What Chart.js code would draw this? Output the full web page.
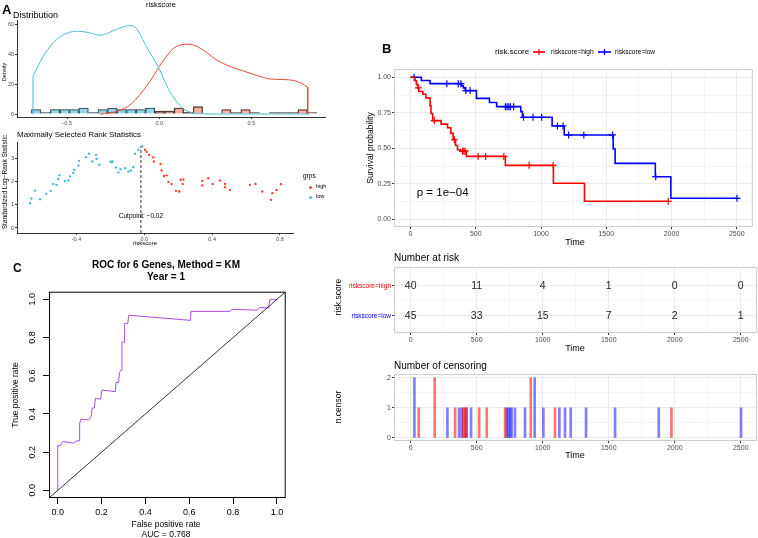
<!DOCTYPE html>
<html>
<head>
<meta charset="utf-8">
<script src="https://cdn.jsdelivr.net/npm/chart.js@4.4.0/dist/chart.umd.min.js"></script>
<style>
body{margin:0;background:#fff;width:758px;height:538px;position:relative;overflow:hidden;font-family:"Liberation Sans",Arial,sans-serif;}
canvas{position:absolute;}
.t{position:absolute;white-space:nowrap;line-height:1;color:#000;}
.dot{position:absolute;width:3px;height:3px;border-radius:50%;}
</style>
</head>
<body>
<canvas id="cDist" width="335" height="130" style="left:0px;top:0px"></canvas>
<canvas id="cRank" width="360" height="125" style="left:0px;top:130px"></canvas>
<canvas id="cRoc" width="360" height="253" style="left:0px;top:285px"></canvas>
<canvas id="cKm" width="396" height="212" style="left:362px;top:40px"></canvas>
<canvas id="cRisk" width="428" height="92" style="left:330px;top:262px"></canvas>
<canvas id="cCens" width="428" height="92" style="left:330px;top:368px"></canvas>
<script>
// ---- A: distribution of riskscore ----
var binMid = [-0.669,-0.617,-0.566,-0.514,-0.462,-0.411,-0.359,-0.307,-0.255,-0.204,-0.152,-0.100,-0.049,0.003,0.055,0.107,0.158,0.210,0.262,0.313,0.365,0.417,0.469,0.520,0.572,0.624,0.675,0.727,0.779,0.830];
var histLow  = [3,1,3,3,3,4,1,3,4,3,3,3,4,1,2,0,1,0,0,0,0,0,0,0,0,0,0,0,0,0];
var histHigh = [0,0,0,0,0,0,0,0,1,0,0,0,0,2,2,4,1,5,0,0,3,1,3,1,0,1,1,1,3,1];
var densLowX  = [-0.686,-0.632,-0.577,-0.505,-0.44,-0.377,-0.323,-0.25,-0.196,-0.156,-0.123,-0.069,0,0.04,0.076,0.12,0.167,0.22,0.4,0.6,0.815];
var densLowY  = [25.4,38.4,47.9,54.2,55.7,54.6,53,56,58.7,59.5,57.5,45.2,30.5,19.3,11.5,4.7,1.3,0.2,0,0,0];
var densHighX = [-0.323,-0.269,-0.214,-0.16,-0.105,-0.05,0,0.04,0.076,0.14,0.185,0.24,0.312,0.385,0.457,0.53,0.602,0.675,0.73,0.775,0.807];
var densHighY = [0,0.7,2.5,6,13,22,32,39,44,47,46.5,43,36.5,32,29,26,23.6,23.2,22.6,20.5,18];
var distXTicks = [-0.5,0,0.5];
var distYTicks = [0,20,40,60];

// ---- A: maximally selected rank statistics ----
var lowX = [-0.674,-0.666,-0.645,-0.615,-0.58,-0.552,-0.537,-0.517,-0.507,-0.501,-0.468,-0.448,-0.438,-0.419,-0.413,-0.389,-0.385,-0.344,-0.326,-0.307,-0.285,-0.281,-0.265,-0.199,-0.193,-0.187,-0.167,-0.153,-0.14,-0.114,-0.094,-0.079,-0.065,-0.055,-0.035,-0.012];
var lowY = [1.07,1.28,1.62,1.25,1.48,1.61,1.91,1.87,2.13,2.29,2.04,2.06,2.23,2.38,2.52,2.71,2.91,3.07,3.22,2.88,3.17,3.0,2.74,2.88,2.85,2.88,2.62,2.41,2.55,2.59,2.45,2.49,2.64,3.22,3.39,3.54];
var highX = [0.004,0.014,0.028,0.053,0.057,0.096,0.102,0.116,0.132,0.142,0.161,0.187,0.206,0.214,0.226,0.23,0.342,0.342,0.377,0.403,0.446,0.476,0.476,0.505,0.623,0.656,0.696,0.747,0.755,0.78,0.806];
var highY = [3.39,3.3,3.17,3.06,2.88,2.77,2.49,2.25,2.28,2.0,1.91,1.61,1.58,2.09,1.91,2.1,2.04,1.84,2.16,1.91,2.06,1.91,1.77,1.65,1.87,1.91,1.58,1.22,1.51,1.65,1.90];
var cutpoint = -0.02;
var rankXTicks = [-0.4,0,0.4,0.8];
var rankYTicks = [0,1,2,3];

// ---- B: Kaplan-Meier ----
var kmHighT = [0,35,45,55,63,95,118,150,157,170,235,284,309,327,345,360,380,428,727,1095,1333];
var kmHighS = [1,0.975,0.95,0.925,0.90,0.88,0.855,0.80,0.745,0.695,0.67,0.645,0.605,0.56,0.52,0.49,0.48,0.443,0.38,0.254,0.127];
var kmHighEnd = 1977;
var kmLowT = [0,83,150,392,405,420,505,605,660,845,858,1085,1178,1553,1568,1876,1995];
var kmLowS = [1,0.977,0.955,0.94,0.925,0.906,0.851,0.822,0.793,0.758,0.718,0.657,0.594,0.495,0.394,0.30,0.148];
var kmLowEnd = 2502;
var censHighT = [61,182,336,399,409,419,518,576,715,909,1093,1975];
var censHighN = [1,2,1,1,1,1,1,1,1,2,1,1];
var censLowT = [28,278,366,386,424,457,727,740,753,765,790,866,939,1005,1126,1169,1212,1328,1548,1879,2502];
var censLowN = [2,1,1,1,1,1,1,1,1,1,1,1,2,1,1,1,1,1,1,1,1];
var timeTicks = [0,250,500,750,1000,1250,1500,1750,2000,2250,2500];
var survTicks = [0,0.125,0.25,0.375,0.5,0.625,0.75,0.875,1];
var riskTimes = [0,500,1000,1500,2000,2500];
var riskHigh = [40,11,4,1,0,0];
var riskLow = [45,33,15,7,2,1];
var pText = 'p = 1e\u221204';

// ---- C: ROC ----
var rocFpr = [0,0,0.012,0.018,0.024,0.073,0.085,0.1,0.1,0.106,0.141,0.152,0.157,0.167,0.172,0.195,0.202,0.263,0.266,0.278,0.281,0.289,0.293,0.304,0.305,0.319,0.324,0.605,0.608,0.787,0.795,0.909,0.921,0.962,0.967,1.0];
var rocTpr = [0,0.235,0.235,0.245,0.256,0.247,0.259,0.259,0.351,0.372,0.369,0.386,0.431,0.431,0.482,0.477,0.525,0.517,0.565,0.565,0.616,0.63,0.776,0.776,0.873,0.873,0.917,0.89,0.937,0.937,0.948,0.943,0.957,0.955,0.998,0.998];
var rocTicks = [0,0.2,0.4,0.6,0.8,1.0];

var FF = '"Liberation Sans", Arial, Helvetica, sans-serif';
Chart.defaults.font.family = FF;
Chart.defaults.animation = false;

var RED = '#E64B35', CYAN = '#4DBBD5';

function fixW(w){ return function(s){ s.width = w; }; }
function fixH(h){ return function(s){ s.height = h; }; }
function setTicks(arr){ return function(s){ s.ticks = arr.map(function(v){ return {value: v}; }); }; }
function pts(xs, ys){ return xs.map(function(x, i){ return {x: x, y: ys[i]}; }); }
function survAt(ts, ss, t){ var s = ss[0]; for (var i = 0; i < ts.length; i++) { if (ts[i] <= t) s = ss[i]; } return s; }
function isMajor(v, step){ return Math.abs(v / step - Math.round(v / step)) < 1e-6; }
function tickMajor(c, step){ return c.tick ? isMajor(c.tick.value, step) : false; }

var frame = {
  id: 'frame',
  afterDraw: function(chart, args, o){
    var a = chart.chartArea, ctx = chart.ctx;
    ctx.save();
    ctx.strokeStyle = o.color; ctx.lineWidth = o.width;
    ctx.strokeRect(a.left + 0.5, a.top + 0.5, a.right - a.left - 1, a.bottom - a.top - 1);
    ctx.restore();
  }
};

var dataText = {
  id: 'dataText',
  afterDatasetsDraw: function(chart, args, o){
    var ctx = chart.ctx;
    (o.items || []).forEach(function(it){
      ctx.save();
      ctx.font = it.font;
      ctx.fillStyle = it.color || '#000';
      ctx.textAlign = it.align || 'center';
      ctx.textBaseline = 'middle';
      ctx.fillText(it.text, chart.scales.x.getPixelForValue(it.x), chart.scales.y.getPixelForValue(it.y));
      ctx.restore();
    });
  }
};

function label(txt, x, y, size, o){
  o = o || {};
  var d = document.createElement('div');
  d.className = 't';
  d.textContent = txt;
  d.style.left = x + 'px';
  d.style.top = y + 'px';
  d.style.fontSize = size + 'px';
  if (o.bold) d.style.fontWeight = 'bold';
  if (o.color) d.style.color = o.color;
  var ax = o.align === 'center' ? '-50%' : (o.align === 'right' ? '-100%' : '0');
  d.style.transform = o.rot ? 'translate(-50%,-50%) rotate(-90deg)' : 'translate(' + ax + ',-50%)';
  document.body.appendChild(d);
}

var base = { responsive: false, devicePixelRatio: 1, animation: false };

function classicAxis(min, max, ticks, fit, isX, fmt){
  var ax = {
    type: 'linear', min: min, max: max, offset: false,
    afterBuildTicks: setTicks(ticks),
    grid: { display: true, drawOnChartArea: false, tickLength: 2, tickColor: '#333', offset: false },
    border: { display: true, color: '#000', width: 0.8 },
    ticks: { font: { size: 5.5 }, color: '#4D4D4D', padding: 1, maxRotation: 0, callback: fmt }
  };
  if (isX) ax.afterFit = fixH(fit); else ax.afterFit = fixW(fit);
  return ax;
}

// ---------- A top: distribution ----------
new Chart(document.getElementById('cDist'), {
  type: 'bar',
  data: { datasets: [
    { type: 'bar', data: pts(binMid, histLow), backgroundColor: 'rgba(77,187,213,0.6)', borderColor: '#333', borderWidth: 0.7, grouped: false, barPercentage: 1, categoryPercentage: 1, order: 3 },
    { type: 'bar', data: pts(binMid, histHigh), backgroundColor: 'rgba(230,75,53,0.45)', borderColor: '#333', borderWidth: 0.7, grouped: false, barPercentage: 1, categoryPercentage: 1, order: 2 },
    { type: 'line', data: pts(densLowX, densLowY), borderColor: CYAN, borderWidth: 1, pointRadius: 0, cubicInterpolationMode: 'monotone', order: 1 },
    { type: 'line', data: pts(densHighX, densHighY), borderColor: RED, borderWidth: 1, pointRadius: 0, cubicInterpolationMode: 'monotone', order: 1 },
    { type: 'line', data: [{x: densLowX[0], y: 0}, {x: densLowX[0], y: densLowY[0]}], borderColor: CYAN, borderWidth: 1, pointRadius: 0, order: 1 },
    { type: 'line', data: [{x: densHighX[densHighX.length - 1], y: densHighY[densHighY.length - 1]}, {x: densHighX[densHighX.length - 1], y: 0}], borderColor: RED, borderWidth: 1, pointRadius: 0, order: 1 }
  ]},
  options: Object.assign({}, base, {
    layout: { padding: { top: 20, right: 10, left: 0, bottom: 0 } },
    plugins: { legend: { display: false }, tooltip: { enabled: false } },
    scales: {
      x: classicAxis(-0.773, 0.901, distXTicks, 13, true, function(v){ return v.toFixed(1); }),
      y: classicAxis(-2, 63.3, distYTicks, 17, false, function(v){ return v; })
    }
  })
});

// ---------- A bottom: rank statistics ----------
new Chart(document.getElementById('cRank'), {
  type: 'scatter',
  data: { datasets: [
    { data: pts(lowX, lowY), backgroundColor: CYAN, borderWidth: 0, pointRadius: 1.2 },
    { data: pts(highX, highY), backgroundColor: RED, borderWidth: 0, pointRadius: 1.2 },
    { data: [{x: cutpoint, y: -0.22}, {x: cutpoint, y: 3.55}], showLine: true, borderColor: '#000', borderWidth: 0.8, borderDash: [3, 2], pointRadius: 0 }
  ]},
  plugins: [dataText],
  options: Object.assign({}, base, {
    layout: { padding: { top: 12, right: 67, left: 0, bottom: 0 } },
    plugins: { legend: { display: false }, tooltip: { enabled: false },
      dataText: { items: [{ text: 'Cutpoint: \u22120.02', x: cutpoint, y: 0.52, font: '6.5px ' + FF }] } },
    scales: {
      x: classicAxis(-0.751, 0.877, rankXTicks, 22, true, function(v){ return v.toFixed(1); }),
      y: classicAxis(-0.217, 3.726, rankYTicks, 17, false, function(v){ return v; })
    }
  })
});

// ---------- B: KM curves ----------
function bwX(fit, labels){
  return {
    type: 'linear', min: -126.5, max: 2623, offset: false,
    afterBuildTicks: setTicks(timeTicks), afterFit: fixH(fit),
    grid: { offset: false, color: '#EBEBEB', lineWidth: function(c){ return tickMajor(c, 500) ? 1 : 0.5; },
            tickLength: 2, tickColor: function(c){ return tickMajor(c, 500) ? '#333' : 'rgba(0,0,0,0)'; } },
    border: { display: false },
    ticks: { display: labels, font: { size: 7 }, color: '#4D4D4D', padding: 1, maxRotation: 0, autoSkip: false,
             callback: function(v){ return isMajor(v, 500) ? String(v) : ''; } }
  };
}

var kmLegend = {
  id: 'kmLegend',
  afterDraw: function(chart){
    var ctx = chart.ctx, y = 12;
    ctx.save();
    ctx.textBaseline = 'middle'; ctx.textAlign = 'left';
    ctx.fillStyle = '#000'; ctx.font = '8px ' + FF;
    ctx.fillText('risk.score', 133, y);
    [[171, 183, 'red', 'riskscore=high', 189], [236, 249, 'blue', 'riskscore=low', 253]].forEach(function(e){
      ctx.strokeStyle = e[2]; ctx.lineWidth = 1.6;
      ctx.beginPath(); ctx.moveTo(e[0], y); ctx.lineTo(e[1], y); ctx.stroke();
      var c = (e[0] + e[1]) / 2;
      ctx.lineWidth = 1.2;
      ctx.beginPath(); ctx.moveTo(c, y - 3); ctx.lineTo(c, y + 3); ctx.stroke();
      ctx.fillStyle = '#000'; ctx.font = '6.6px ' + FF;
      ctx.fillText(e[3], e[4], y);
    });
    ctx.restore();
  }
};

function stepData(ts, ss, end){ return pts(ts, ss).concat([{x: end, y: ss[ss.length - 1]}]); }
function censPts(ct, ts, ss){ return ct.map(function(t){ return {x: t, y: survAt(ts, ss, t)}; }); }

function bwY(min, max, ticks, step, fit, size, fmt, color){
  return { type: 'linear', min: min, max: max,
           afterBuildTicks: setTicks(ticks), afterFit: fixW(fit),
           grid: { offset: false, color: '#EBEBEB', lineWidth: function(c){ return tickMajor(c, step) ? 1 : 0.5; },
                   tickLength: 2, tickColor: function(c){ return tickMajor(c, step) ? '#333' : 'rgba(0,0,0,0)'; } },
           border: { display: false },
           ticks: { font: { size: size }, color: color || '#4D4D4D', padding: 1, autoSkip: false, callback: fmt } };
}

new Chart(document.getElementById('cKm'), {
  type: 'line',
  data: { datasets: [
    { data: stepData(kmHighT, kmHighS, kmHighEnd), stepped: 'before', borderColor: '#FF0000', borderWidth: 1.6, pointRadius: 0 },
    { data: stepData(kmLowT, kmLowS, kmLowEnd), stepped: 'before', borderColor: '#0000FF', borderWidth: 1.6, pointRadius: 0 },
    { data: censPts(censHighT, kmHighT, kmHighS), showLine: false, pointStyle: 'cross', pointRadius: 3.5, borderColor: '#FF0000', borderWidth: 1.2 },
    { data: censPts(censLowT, kmLowT, kmLowS), showLine: false, pointStyle: 'cross', pointRadius: 3.5, borderColor: '#0000FF', borderWidth: 1.2 }
  ]},
  plugins: [frame, dataText, kmLegend],
  options: Object.assign({}, base, {
    layout: { padding: { top: 29, right: 1, left: 0, bottom: 0 } },
    plugins: { legend: { display: false }, tooltip: { enabled: false },
      frame: { color: '#CCCCCC', width: 1 },
      dataText: { items: [{ text: pText, x: 48, y: 0.185, align: 'left', font: '11.5px ' + FF }] } },
    scales: {
      x: bwX(25, true),
      y: bwY(-0.054, 1.058, survTicks, 0.25, 32, 7, function(v){ return isMajor(v, 0.25) ? v.toFixed(2) : ''; })
    }
  })
});

// ---------- B: number at risk ----------
var riskNums = {
  id: 'riskNums',
  afterDatasetsDraw: function(chart){
    var ctx = chart.ctx;
    ctx.save();
    ctx.font = '10.5px ' + FF; ctx.fillStyle = '#222'; ctx.textAlign = 'center'; ctx.textBaseline = 'middle';
    chart.data.datasets.forEach(function(ds, i){
      chart.getDatasetMeta(i).data.forEach(function(el, j){ ctx.fillText(String(ds.data[j].n), el.x, el.y); });
    });
    ctx.restore();
  }
};
new Chart(document.getElementById('cRisk'), {
  type: 'scatter',
  data: { datasets: [
    { data: riskTimes.map(function(t, i){ return {x: t, y: 2, n: riskHigh[i]}; }), pointRadius: 0 },
    { data: riskTimes.map(function(t, i){ return {x: t, y: 1, n: riskLow[i]}; }), pointRadius: 0 }
  ]},
  plugins: [frame, riskNums],
  options: Object.assign({}, base, {
    layout: { padding: { top: 5, right: 1, left: 0, bottom: 0 } },
    plugins: { legend: { display: false }, tooltip: { enabled: false }, frame: { color: '#CCCCCC', width: 1 } },
    scales: {
      x: bwX(21, true),
      y: bwY(0.433, 2.633, [1, 1.5, 2], 1, 64, 6.5,
             function(v){ return v === 2 ? 'riskscore=high' : (v === 1 ? 'riskscore=low' : ''); },
             function(c){ return c.tick && c.tick.value === 2 ? '#FF0000' : '#0000FF'; })
    }
  })
});

// ---------- B: number of censoring ----------
new Chart(document.getElementById('cCens'), {
  type: 'bar',
  data: { datasets: [
    { data: pts(censHighT, censHighN), backgroundColor: 'rgba(255,0,0,0.55)', barThickness: 2, grouped: false },
    { data: pts(censLowT, censLowN), backgroundColor: 'rgba(0,0,255,0.5)', barThickness: 2, grouped: false }
  ]},
  plugins: [frame],
  options: Object.assign({}, base, {
    layout: { padding: { top: 6, right: 1, left: 0, bottom: 0 } },
    plugins: { legend: { display: false }, tooltip: { enabled: false }, frame: { color: '#CCCCCC', width: 1 } },
    scales: {
      x: bwX(19, true),
      y: bwY(-0.1, 2.123, [0, 0.5, 1, 1.5, 2], 1, 64, 7, function(v){ return isMajor(v, 1) ? String(v) : ''; })
    }
  })
});

// ---------- C: ROC ----------
var rocYLabels = {
  id: 'rocYLabels',
  afterDraw: function(chart){
    var ctx = chart.ctx, y = chart.scales.y, a = chart.chartArea;
    ctx.save();
    ctx.font = '9px ' + FF; ctx.fillStyle = '#000'; ctx.textAlign = 'center'; ctx.textBaseline = 'middle';
    rocTicks.forEach(function(v){
      ctx.save();
      ctx.translate(a.left - 16, y.getPixelForValue(v));
      ctx.rotate(-Math.PI / 2);
      ctx.fillText(v.toFixed(1), 0, 0);
      ctx.restore();
    });
    ctx.restore();
  }
};
function rocAxis(isX){
  var ax = {
    type: 'linear', min: -0.04, max: 1.04, offset: false,
    afterBuildTicks: setTicks(rocTicks),
    grid: { display: true, drawOnChartArea: false, tickLength: 6, tickColor: '#000' },
    border: { display: false },
    ticks: { display: isX, font: { size: 9 }, color: '#000', padding: 3, maxRotation: 0,
             callback: function(v){ return v.toFixed(1); } }
  };
  ax.afterFit = isX ? fixH(40) : fixW(49);
  return ax;
}
new Chart(document.getElementById('cRoc'), {
  type: 'scatter',
  data: { datasets: [
    { data: [{x: -0.04, y: -0.04}, {x: 1.04, y: 1.04}], showLine: true, borderColor: '#000', borderWidth: 0.8, pointRadius: 0 },
    { data: pts(rocFpr, rocTpr).concat([{x: 1, y: 1}]), showLine: true, borderColor: '#A64CE6', borderWidth: 1, pointRadius: 0 }
  ]},
  plugins: [frame, rocYLabels],
  options: Object.assign({}, base, {
    layout: { padding: { top: 6.7, right: 74.3, left: 0, bottom: 0 } },
    plugins: { legend: { display: false }, tooltip: { enabled: false }, frame: { color: '#000', width: 1 } },
    scales: { x: rocAxis(true), y: rocAxis(false) }
  })
});

// ---------- text ----------
label('A', 2, 9, 13, { bold: true });
label('riskscore', 161, 5, 7.5, { align: 'center' });
label('Distribution', 13, 15, 9);
label('Density', 5, 72, 5.5, { rot: true });
label('Maximally Selected Rank Statistics', 17, 135, 8);
label('Standardized Log\u2212Rank Statistic', 5, 182, 6.5, { rot: true });
label('riskscore', 145, 243, 6, { align: 'center' });
label('grps', 303, 176, 6.5);
label('high', 316, 187, 5.5);
label('low', 316, 197, 5.5);
[[309, 186, RED], [309, 196, CYAN]].forEach(function(d){
  var e = document.createElement('div');
  e.className = 'dot'; e.style.left = d[0] + 'px'; e.style.top = d[1] + 'px'; e.style.background = d[2];
  document.body.appendChild(e);
});

label('B', 382, 48, 13, { bold: true });
label('Survival probability', 370, 148, 8.5, { rot: true });
label('Time', 575, 242, 9, { align: 'center' });
label('Number at risk', 394, 258, 10);
label('risk.score', 338, 297, 8.5, { rot: true });
label('Time', 575, 348, 9, { align: 'center' });
label('Number of censoring', 394, 366, 10);
label('n.censor', 338, 407, 8.5, { rot: true });
label('Time', 575, 455, 9, { align: 'center' });

label('C', 13, 268, 12, { bold: true });
label('ROC for 6 Genes, Method = KM', 166, 265, 10, { bold: true, align: 'center' });
label('Year = 1', 166, 277, 10, { bold: true, align: 'center' });
label('True positive rate', 15, 395, 8.5, { rot: true });
label('False positive rate', 166, 524, 8.5, { align: 'center' });
label('AUC =  0.768', 166, 534, 8.5, { align: 'center' });
</script>
</body>
</html>
